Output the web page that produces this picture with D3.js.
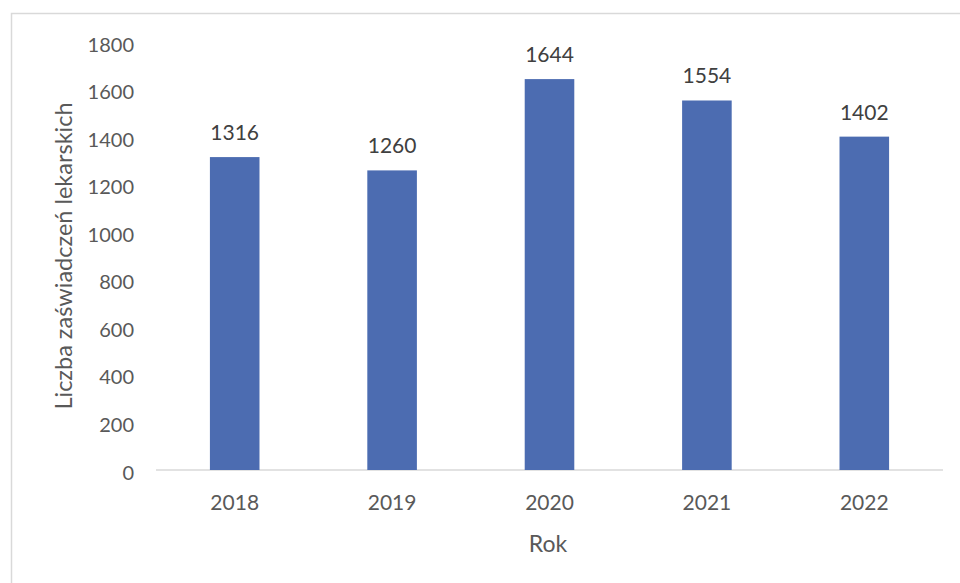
<!DOCTYPE html>
<html>
<head>
<meta charset="utf-8">
<script src="https://cdn.jsdelivr.net/npm/d3@7"></script>
<style>
  body { margin: 0; background: #fff; }
  text { font-family: Lato, "Open Sans", sans-serif; }
</style>
</head>
<body>
<svg width="960" height="583"></svg>
<script>
// chart values
var years = ["2018", "2019", "2020", "2021", "2022"];
var counts = [1316, 1260, 1644, 1554, 1402];
var yTicks = [0, 200, 400, 600, 800, 1000, 1200, 1400, 1600, 1800];

var svg = d3.select("svg");

// outer frame of the chart area
svg.append("rect")
    .attr("x", 11.5)
    .attr("y", 13.5)
    .attr("width", 960)
    .attr("height", 600)
    .attr("fill", "#fff")
    .attr("stroke", "#d9d9d9")
    .attr("stroke-width", 1.5);

var plotLeft = 156, plotRight = 943, plotTop = 42, plotBottom = 470;

var xScale = d3.scaleBand()
    .domain(years)
    .range([plotLeft, plotRight])
    .paddingInner(0.685)
    .paddingOuter(0.3425);

var yScale = d3.scaleLinear()
    .domain([0, 1800])
    .range([plotBottom, plotTop]);

// y axis labels (no line)
var yAxis = svg.append("g")
    .attr("transform", "translate(" + (plotLeft - 22) + ",0)")
    .call(d3.axisLeft(yScale).tickValues(yTicks).tickFormat(d3.format("d")).tickSize(0).tickPadding(0));
yAxis.select(".domain").remove();
yAxis.selectAll("text")
    .style("font-size", "20px")
    .attr("dy", "0.45em")
    .attr("fill", "#595959");

// baseline
svg.append("line")
    .attr("x1", plotLeft)
    .attr("x2", plotRight)
    .attr("y1", yScale(0))
    .attr("y2", yScale(0))
    .attr("stroke", "#d9d9d9")
    .attr("stroke-width", 1.5);

// x axis labels
var xAxis = svg.append("g")
    .attr("transform", "translate(0," + plotBottom + ")")
    .call(d3.axisBottom(xScale).tickSize(0).tickPadding(25));
xAxis.select(".domain").remove();
xAxis.selectAll("text")
    .style("font-size", "21px")
    .attr("fill", "#595959");

// bars
svg.append("g")
    .selectAll("rect")
    .data(counts)
    .enter()
    .append("rect")
    .attr("x", function (d, i) { return xScale(years[i]); })
    .attr("y", function (d) { return yScale(d); })
    .attr("width", xScale.bandwidth())
    .attr("height", function (d) { return yScale(0) - yScale(d); })
    .attr("fill", "#4c6cb1");

// value labels
svg.append("g")
    .selectAll("text")
    .data(counts)
    .enter()
    .append("text")
    .attr("x", function (d, i) { return xScale(years[i]) + xScale.bandwidth() / 2; })
    .attr("y", function (d) { return yScale(d) - 17; })
    .attr("text-anchor", "middle")
    .style("font-size", "21px")
    .attr("fill", "#404040")
    .text(function (d) { return d; });

// axis titles
svg.append("text")
    .attr("x", 548)
    .attr("y", 552)
    .attr("text-anchor", "middle")
    .style("font-size", "23px")
    .attr("fill", "#595959")
    .text("Rok");

svg.append("text")
    .attr("transform", "translate(72,256) rotate(-90)")
    .attr("text-anchor", "middle")
    .style("font-size", "23.5px")
    .attr("fill", "#595959")
    .text("Liczba zaświadczeń lekarskich");
</script>
</body>
</html>
